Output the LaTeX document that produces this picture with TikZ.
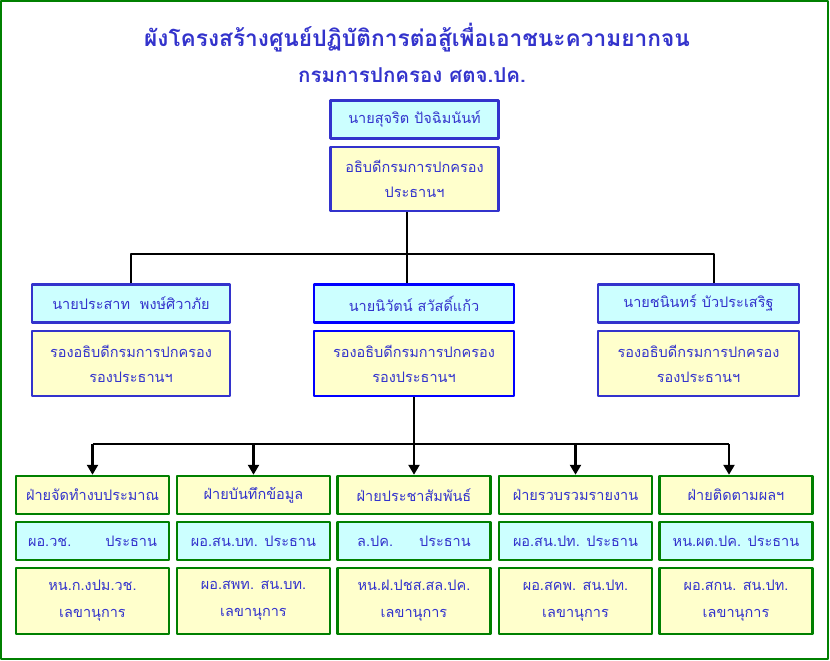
\documentclass[tikz,border=0pt]{standalone}
\usepackage{fontspec}
\newfontfamily\thaifont[Script=Thai]{Loma}
\usetikzlibrary{arrows.meta}
\definecolor{txtblue}{HTML}{3333CC}
\definecolor{boxblue}{HTML}{3333CC}
\definecolor{brightblue}{HTML}{0000FF}
\definecolor{cyanfill}{HTML}{CCFFFF}
\definecolor{yellowfill}{HTML}{FFFFCC}
\definecolor{boxgreen}{HTML}{008000}
\begin{document}
\begin{tikzpicture}[x=1pt, y=-1pt, line join=round, >={Triangle[width=11pt,length=10pt]},
    body/.style={font=\thaifont\fontsize{14.5}{25}\selectfont, text=txtblue, align=center, inner sep=0pt, line width=2.5pt},
    namebox/.style={body, draw=boxblue, fill=cyanfill, minimum height=38},
    postbox/.style={body, draw=boxblue, fill=yellowfill, minimum height=65},
    unitbox/.style={body, draw=boxgreen, fill=yellowfill, minimum width=153, minimum height=38},
    headbox/.style={body, draw=boxgreen, fill=cyanfill, minimum width=153, minimum height=38},
    secbox/.style={body, draw=boxgreen, fill=yellowfill, minimum width=153, minimum height=66, font=\thaifont\fontsize{14.5}{27}\selectfont},
    link/.style={line width=2.5pt, black}]
    \useasboundingbox (0,0) rectangle (830,661);
    \draw[boxgreen, line width=1.5pt] (1,1) rectangle (828,659);
    % title
    \node[font=\thaifont\bfseries\fontsize{22.7}{26}\selectfont, text=txtblue] (title) at (417,38) {ผังโครงสร้างศูนย์ปฏิบัติการต่อสู้เพื่อเอาชนะความยากจน};
    \node[font=\thaifont\bfseries\fontsize{20.5}{24}\selectfont, text=txtblue] (dept) at (412,75) {กรมการปกครอง ศตจ.ปค.};
    % chairman
    \node[namebox, minimum width=168] (cname) at (414.5,119.5) {นายสุจริต ปัจฉิมนันท์};
    \node[postbox, minimum width=168, minimum height=64] (cpost) at (414.5,179) {อธิบดีกรมการปกครอง\\ประธานฯ};
    % vice chairmen
    \node[namebox, minimum width=198] (lname) at (131,303.5) {นายประสาท\ \ พงษ์ศิวาภัย};
    \node[postbox, minimum width=198] (lpost) at (131,363.5) {รองอธิบดีกรมการปกครอง\\รองประธานฯ};
    \node[namebox, draw=brightblue, minimum width=200] (mname) at (414,303.5) {นายนิวัตน์ สวัสดิ์แก้ว};
    \node[postbox, draw=brightblue, minimum width=200] (mpost) at (414,363.5) {รองอธิบดีกรมการปกครอง\\รองประธานฯ};
    \node[namebox, minimum width=201] (rname) at (698.5,303.5) {นายชนินทร์ บัวประเสริฐ};
    \node[postbox, minimum width=201] (rpost) at (698.5,363.5) {รองอธิบดีกรมการปกครอง\\รองประธานฯ};
    % units
    \node[unitbox] (u1) at (92.5,495) {ฝ่ายจัดทำงบประมาณ};
    \node[unitbox] (u2) at (253.5,495) {ฝ่ายบันทึกข้อมูล};
    \node[unitbox] (u3) at (414,495) {ฝ่ายประชาสัมพันธ์};
    \node[unitbox] (u4) at (575.5,495) {ฝ่ายรวบรวมรายงาน};
    \node[unitbox] (u5) at (736,495) {ฝ่ายติดตามผลฯ};
    \node[headbox] (h1) at (92.5,541) {ผอ.วช.\hspace{34pt}ประธาน};
    \node[headbox] (h2) at (253.5,541) {ผอ.สน.บท. ประธาน};
    \node[headbox] (h3) at (414,541) {ล.ปค.\hspace{26pt}ประธาน};
    \node[headbox] (h4) at (575.5,541) {ผอ.สน.ปท. ประธาน};
    \node[headbox] (h5) at (736,541) {หน.ผต.ปค. ประธาน};
    \node[secbox] (s1) at (92.5,601) {หน.ก.งปม.วช.\\เลขานุการ};
    \node[secbox] (s2) at (253.5,601) {ผอ.สพท. สน.บท.\\เลขานุการ};
    \node[secbox] (s3) at (414,601) {หน.ฝ.ปชส.สล.ปค.\\เลขานุการ};
    \node[secbox] (s4) at (575.5,601) {ผอ.สคพ. สน.ปท.\\เลขานุการ};
    \node[secbox] (s5) at (736,601) {ผอ.สกน. สน.ปท.\\เลขานุการ};
    % connectors
    \coordinate (hub) at (407,254);
    \coordinate (bus) at (415,444);
    \draw[link] (cpost.south -| hub) -- (mname.north -| hub);
    \draw[link] (lname.north) |- ([xshift=15.5pt]rname.north |- hub) -- ([xshift=15.5pt]rname.north);
    \draw[link] (mpost.south) -- (mpost.south |- bus);
    \draw[link] (u1.north |- bus) -- ([xshift=-7pt]u5.north |- bus);
    \draw[link,->] (u1.north |- bus) -- (u1.north);
    \draw[link,->] (u2.north |- bus) -- (u2.north);
    \draw[link,->] (u3.north |- bus) -- (u3.north);
    \draw[link,->] (u4.north |- bus) -- (u4.north);
    \draw[link,->] ([xshift=-7pt]u5.north |- bus) -- ([xshift=-7pt]u5.north);
\end{tikzpicture}
\end{document}
